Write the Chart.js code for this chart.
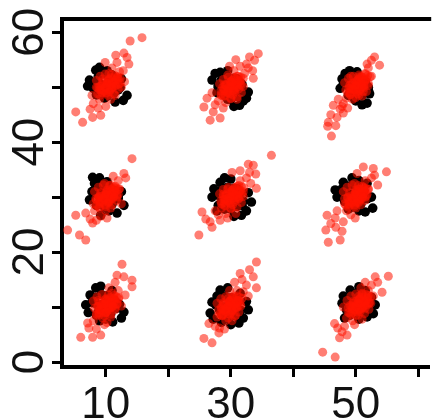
<!DOCTYPE html>
<html>
<head>
<meta charset="utf-8">
<script src="https://cdn.jsdelivr.net/npm/chart.js@4"></script>
<style>
  html, body { margin: 0; padding: 0; background: #fff; overflow: hidden; }
</style>
</head>
<body>
<canvas id="scatter" width="434" height="420"></canvas>
<script>
// tick positions and labelled ticks
const xTicks = [10, 20, 30, 40, 50, 60];
const xLabels = [10, 30, 50];
const yTicks = [0, 10, 20, 30, 40, 50, 60];
const yLabels = [0, 20, 40, 60];

// black points, outer part of each cluster
const blackPts = [
    // (10,50)
    [8.4,53.1],[7.4,51.3],[7.1,50.2],[9.0,53.6],[10.2,53.0],[11.0,52.2],[13.4,48.5],[12.8,47.6],[11.5,47.3],
    [12.0,49.5],[9.5,50.0],[8.5,48.6],[10.5,51.0],[11.8,50.6],[9.8,48.0],[8.0,49.8],[10.8,49.0],[12.5,51.5],
    // (30,50)
    [27.0,51.3],[27.5,52.5],[28.3,52.7],[29.5,53.0],[31.4,46.7],[32.8,49.1],[32.0,47.5],[30.5,46.5],[29.0,48.5],
    [30.0,50.0],[31.0,51.5],[28.0,50.0],[29.5,47.8],[31.8,50.5],[30.8,48.8],[28.8,51.2],[32.5,48.0],[27.8,49.0],
    // (50,50)
    [48.3,52.5],[47.5,49.8],[47.8,51.5],[49.0,53.0],[50.2,52.8],[51.8,47.1],[51.0,46.8],[50.0,47.5],[52.2,48.8],
    [49.5,50.0],[50.8,51.0],[48.8,48.5],[51.5,50.2],[49.2,51.8],[50.5,49.0],[48.5,50.8],[52.0,50.0],[49.8,47.8],
    // (10,30)
    [7.9,33.6],[9.0,33.5],[8.2,32.5],[10.2,32.8],[7.4,29.5],[7.8,31.0],[11.8,27.1],[12.9,28.5],[9.2,26.7],
    [10.5,27.5],[12.0,30.0],[9.5,30.5],[10.8,31.5],[8.5,28.5],[11.0,29.0],[9.8,28.2],[12.5,31.0],[8.8,31.2],
    // (30,30)
    [27.0,30.0],[27.3,31.5],[28.3,32.7],[30.0,33.3],[29.0,33.5],[31.7,26.7],[33.3,29.1],[32.5,27.5],[30.5,26.5],
    [28.0,28.5],[29.5,30.0],[31.0,31.5],[32.8,30.8],[29.0,27.8],[30.5,29.0],[28.5,29.8],[31.8,28.5],[27.8,27.5],
    // (50,30)
    [46.7,31.3],[47.0,30.0],[48.0,32.7],[49.4,33.5],[50.5,33.0],[52.7,28.0],[51.5,27.3],[50.5,27.5],[52.5,30.0],
    [49.0,30.5],[48.2,29.2],[50.0,29.5],[51.2,31.2],[49.5,28.2],[47.8,31.5],[51.8,32.5],[48.8,27.8],[50.8,30.0],
    // (10,10)
    [8.4,13.5],[9.2,13.8],[7.5,12.2],[6.8,10.4],[7.2,9.0],[12.9,9.1],[11.1,7.3],[12.5,8.0],[10.0,7.8],
    [8.5,8.5],[9.5,10.5],[10.5,12.0],[11.5,11.0],[12.2,10.5],[8.0,11.5],[10.2,9.2],[9.0,7.5],[11.0,13.0],
    // (30,10)
    [27.0,10.9],[28.3,13.1],[26.7,8.9],[27.2,7.8],[29.5,13.5],[31.3,7.1],[32.8,9.5],[32.5,11.0],[30.0,6.8],
    [28.5,7.2],[29.0,10.0],[30.5,11.5],[31.5,12.5],[28.2,9.5],[30.8,9.0],[29.5,8.2],[32.0,8.0],[27.8,12.0],
    // (50,10)
    [49.1,13.1],[47.8,10.7],[48.0,12.0],[50.5,13.7],[51.5,13.0],[51.8,8.2],[53.1,10.4],[52.5,11.8],[50.5,7.8],
    [49.0,8.5],[48.5,9.5],[50.0,10.5],[51.0,11.0],[52.0,9.5],[49.5,11.5],[50.8,9.2],[48.2,8.0],[52.8,8.8],
];

// black points filling the middle of each cluster
const blackCore = [
    [8.8,51.9],[9.8,52.4],[10.8,52.3],[11.8,51.4],[12.3,49.9],[11.3,48.9],[10.3,48.4],[9.3,49.2],[8.3,50.9],[9.1,50.6],[10.5,50.9],[11.3,50.6],[9.8,49.9],[10.8,49.6],
    [28.5,51.3],[29.5,51.8],[30.5,51.6],[31.5,50.8],[32.0,49.3],[31.0,48.3],[30.0,47.8],[29.0,48.6],[28.0,50.3],[28.8,50.0],[30.2,50.3],[31.0,50.0],[29.5,49.3],[30.5,49.0],
    [48.5,51.5],[49.5,52.0],[50.5,51.8],[51.5,51.0],[52.0,49.5],[51.0,48.5],[50.0,48.0],[49.0,48.8],[48.0,50.5],[48.8,50.2],[50.2,50.5],[51.0,50.2],[49.5,49.5],[50.5,49.2],
    [8.5,31.7],[9.5,32.2],[10.5,32.0],[11.5,31.2],[12.0,29.7],[11.0,28.7],[10.0,28.2],[9.0,29.0],[8.0,30.7],[8.8,30.4],[10.2,30.7],[11.0,30.4],[9.5,29.7],[10.5,29.4],
    [28.5,31.3],[29.5,31.8],[30.5,31.6],[31.5,30.8],[32.0,29.3],[31.0,28.3],[30.0,27.8],[29.0,28.6],[28.0,30.3],[28.8,30.0],[30.2,30.3],[31.0,30.0],[29.5,29.3],[30.5,29.0],
    [48.3,31.7],[49.3,32.2],[50.3,32.0],[51.3,31.2],[51.8,29.7],[50.8,28.7],[49.8,28.2],[48.8,29.0],[47.8,30.7],[48.6,30.4],[50.0,30.7],[50.8,30.4],[49.3,29.7],[50.3,29.4],
    [8.3,11.8],[9.3,12.3],[10.3,12.1],[11.3,11.3],[11.8,9.8],[10.8,8.8],[9.8,8.3],[8.8,9.1],[7.8,10.8],[8.6,10.5],[10.0,10.8],[10.8,10.5],[9.3,9.8],[10.3,9.5],
    [28.1,11.4],[29.1,11.9],[30.1,11.7],[31.1,10.9],[31.6,9.4],[30.6,8.4],[29.6,7.9],[28.6,8.7],[27.6,10.4],[28.4,10.1],[29.8,10.4],[30.6,10.1],[29.1,9.4],[30.1,9.1],
    [48.9,11.9],[49.9,12.4],[50.9,12.2],[51.9,11.4],[52.4,9.9],[51.4,8.9],[50.4,8.4],[49.4,9.2],[48.4,10.9],[49.2,10.6],[50.6,10.9],[51.4,10.6],[49.9,9.9],[50.9,9.6],
];

// red (transparent) points, spread and outliers
const redPts = [
    // (10,50)
    [13.9,58.4],[15.8,59.0],[9.9,54.5],[11.8,54.5],[13.4,55.4],[13.7,54.2],[5.2,45.5],[6.3,43.6],[7.9,44.5],
    [9.2,44.9],[8.0,47.0],[7.5,46.0],[9.0,47.8],[10.0,49.0],[11.0,50.5],[12.0,51.5],[12.8,53.0],[10.5,52.5],
    [9.5,51.5],[8.5,50.0],[11.5,48.5],[12.5,50.0],[10.0,46.5],[8.8,46.2],[11.0,53.5],[12.2,52.8],[9.0,49.5],
    [10.8,47.8],[13.0,51.0],[7.8,48.5],[11.6,55.8],[12.9,56.2],
    // (30,50)
    [34.4,56.1],[33.8,54.9],[33.6,51.6],[33.0,55.5],[32.5,54.2],[31.5,53.8],[30.5,53.0],[29.5,52.2],[31.0,52.0],
    [30.0,51.0],[29.0,50.5],[30.5,49.5],[29.5,49.0],[28.5,48.5],[30.0,48.0],[31.5,50.5],[32.2,52.5],[28.0,47.5],
    [27.5,46.8],[26.2,48.0],[25.7,46.4],[26.7,44.0],[28.3,44.4],[27.2,45.5],[28.8,46.2],[29.2,47.2],[31.0,47.8],
    [32.8,53.5],[30.8,55.0],[27.0,49.0],[29.8,53.8],[33.5,53.0],
    // (50,50)
    [52.5,54.9],[53.8,54.0],[53.0,55.5],[52.0,53.5],[51.5,52.5],[51.0,51.8],[50.5,52.2],[50.0,51.0],[49.5,50.5],
    [51.0,50.0],[50.0,49.5],[49.0,49.0],[50.5,48.5],[48.5,48.0],[49.5,47.8],[51.2,49.2],[48.0,47.0],[47.5,46.0],
    [46.4,46.7],[48.0,45.3],[45.6,43.6],[46.1,41.1],[45.5,42.9],[47.0,44.5],[46.8,43.0],[47.8,46.5],[48.7,46.2],
    [52.5,52.0],[51.8,54.2],[49.2,52.0],[47.2,47.8],[46.0,45.0],
    // (10,30)
    [14.2,37.0],[12.9,34.3],[13.2,33.5],[12.0,33.0],[11.5,32.0],[10.8,32.2],[11.0,30.5],[10.0,31.0],[9.5,29.5],
    [10.5,29.0],[11.8,30.0],[9.0,28.0],[10.0,27.5],[12.2,31.5],[9.8,32.5],[8.5,29.5],[8.2,27.5],[9.2,26.5],
    [7.9,25.3],[6.8,27.1],[5.2,26.7],[3.9,24.0],[5.8,23.1],[6.8,22.2],[8.5,25.8],[7.5,26.0],[10.8,28.0],
    [11.2,33.8],[12.5,28.8],[9.0,30.2],[8.0,28.8],[10.2,26.2],
    // (30,30)
    [36.5,37.6],[33.6,35.8],[30.2,34.5],[34.1,31.6],[33.0,34.5],[32.5,33.5],[31.5,33.0],[31.0,32.0],[32.0,31.0],
    [30.5,30.5],[29.5,31.5],[30.0,29.5],[31.2,29.8],[29.0,29.0],[28.5,28.0],[30.0,28.0],[29.2,27.0],[28.0,26.8],
    [27.5,27.5],[28.3,25.8],[26.7,25.5],[25.4,27.3],[24.9,23.1],[27.0,24.5],[26.0,26.0],[29.5,26.2],[31.5,34.8],
    [33.2,32.5],[32.8,36.0],[28.8,30.5],[30.8,27.0],[34.0,34.2],
    // (50,30)
    [52.8,35.2],[54.9,34.6],[50.2,34.3],[53.5,32.2],[52.5,33.5],[51.5,33.0],[51.0,32.0],[50.5,31.5],[50.0,31.0],
    [51.5,30.0],[49.5,29.5],[50.5,29.0],[49.0,28.5],[48.5,27.5],[50.0,28.0],[49.2,26.8],[48.0,25.5],[46.7,26.2],
    [45.4,26.7],[45.2,24.0],[45.6,21.8],[47.5,22.2],[49.9,26.2],[46.8,24.5],[47.8,23.8],[47.0,27.5],[48.2,28.8],
    [52.0,31.5],[53.0,34.0],[49.8,32.5],[51.2,35.5],[46.0,25.2],
    // (10,10)
    [12.6,17.8],[12.9,15.5],[14.2,14.9],[14.2,13.7],[13.1,12.2],[11.5,14.5],[12.0,13.0],[11.0,12.5],[10.5,13.5],
    [10.0,11.5],[11.0,11.0],[9.5,10.5],[10.5,10.0],[9.0,9.5],[10.0,9.0],[11.5,9.8],[8.5,8.5],[9.5,8.0],
    [10.8,8.2],[8.0,7.5],[7.1,7.1],[7.3,6.2],[6.0,4.5],[7.9,4.5],[9.2,4.9],[8.5,6.0],[9.8,6.8],
    [12.0,11.5],[11.8,15.8],[8.8,11.2],[10.2,7.2],[12.5,10.2],
    // (30,10)
    [34.1,18.2],[33.6,15.5],[31.5,16.1],[34.1,13.5],[30.6,14.5],[32.5,14.0],[32.0,12.8],[31.0,13.0],[30.5,12.0],
    [31.5,11.0],[30.0,10.5],[29.5,11.5],[31.0,10.0],[29.0,9.5],[30.0,9.0],[30.8,8.5],[28.5,8.5],[29.2,7.5],
    [28.2,6.2],[28.1,5.3],[26.5,7.0],[25.7,4.3],[27.0,3.5],[27.5,6.5],[29.0,6.0],[32.8,12.0],[31.8,15.0],
    [29.8,13.0],[28.8,10.8],[30.2,7.5],[33.0,16.8],[27.8,8.2],
    // (50,10)
    [55.2,15.6],[53.1,15.5],[54.2,12.7],[51.5,14.5],[52.5,14.0],[52.0,13.0],[51.0,12.5],[50.5,12.0],[51.5,11.0],
    [50.0,11.0],[49.5,10.0],[50.5,9.5],[51.5,9.8],[49.0,9.0],[50.0,8.5],[48.5,8.0],[49.5,7.5],[48.6,4.9],
    [47.4,4.4],[47.1,6.2],[46.6,7.0],[44.7,1.8],[46.7,0.9],[48.2,6.5],[49.8,6.8],[52.8,12.0],[53.5,14.5],
    [50.8,13.5],[48.0,10.0],[51.0,7.8],[47.8,5.5],[52.2,10.8],
];

// dense red core of each cluster (diagonal band)
const redCore = [
    [8.7,48.8],[9.3,49.5],[9.9,49.9],[10.5,50.3],[11.1,50.8],[11.7,51.3],[12.3,51.7],[9.5,50.5],[10.3,51.1],[10.9,51.7],[11.5,52.1],[11.3,50.1],
    [10.7,49.5],[10.1,48.9],[12.0,50.5],[9.0,50.1],[10.5,51.3],[11.5,50.9],[9.7,49.3],[11.0,49.9],[10.2,50.6],[11.9,51.9],[9.1,48.5],[10.8,50.3],
    [28.4,48.7],[29.0,49.4],[29.6,49.8],[30.2,50.2],[30.8,50.7],[31.4,51.2],[32.0,51.6],[29.2,50.4],[30.0,51.0],[30.6,51.6],[31.2,52.0],[31.0,50.0],
    [30.4,49.4],[29.8,48.8],[31.7,50.4],[28.7,50.0],[30.2,51.2],[31.2,50.8],[29.4,49.2],[30.7,49.8],[29.9,50.5],[31.6,51.8],[28.8,48.4],[30.5,50.2],
    [48.7,49.0],[49.3,49.7],[49.9,50.1],[50.5,50.5],[51.1,51.0],[51.7,51.5],[52.3,51.9],[49.5,50.7],[50.3,51.3],[50.9,51.9],[51.5,52.3],[51.3,50.3],
    [50.7,49.7],[50.1,49.1],[52.0,50.7],[49.0,50.3],[50.5,51.5],[51.5,51.1],[49.7,49.5],[51.0,50.1],[50.2,50.8],[51.9,52.1],[49.1,48.7],[50.8,50.5],
    [8.5,28.5],[9.1,29.2],[9.7,29.6],[10.3,30.0],[10.9,30.5],[11.5,31.0],[12.1,31.4],[9.3,30.2],[10.1,30.8],[10.7,31.4],[11.3,31.8],[11.1,29.8],
    [10.5,29.2],[9.9,28.6],[11.8,30.2],[8.8,29.8],[10.3,31.0],[11.3,30.6],[9.5,29.0],[10.8,29.6],[10.0,30.3],[11.7,31.6],[8.9,28.2],[10.6,30.0],
    [28.5,28.8],[29.1,29.5],[29.7,29.9],[30.3,30.3],[30.9,30.8],[31.5,31.3],[32.1,31.7],[29.3,30.5],[30.1,31.1],[30.7,31.7],[31.3,32.1],[31.1,30.1],
    [30.5,29.5],[29.9,28.9],[31.8,30.5],[28.8,30.1],[30.3,31.3],[31.3,30.9],[29.5,29.3],[30.8,29.9],[30.0,30.6],[31.7,31.9],[28.9,28.5],[30.6,30.3],
    [48.4,28.5],[49.0,29.2],[49.6,29.6],[50.2,30.0],[50.8,30.5],[51.4,31.0],[52.0,31.4],[49.2,30.2],[50.0,30.8],[50.6,31.4],[51.2,31.8],[51.0,29.8],
    [50.4,29.2],[49.8,28.6],[51.7,30.2],[48.7,29.8],[50.2,31.0],[51.2,30.6],[49.4,29.0],[50.7,29.6],[49.9,30.3],[51.6,31.6],[48.8,28.2],[50.5,30.0],
    [8.5,8.8],[9.1,9.5],[9.7,9.9],[10.3,10.3],[10.9,10.8],[11.5,11.3],[12.1,11.7],[9.3,10.5],[10.1,11.1],[10.7,11.7],[11.3,12.1],[11.1,10.1],
    [10.5,9.5],[9.9,8.9],[11.8,10.5],[8.8,10.1],[10.3,11.3],[11.3,10.9],[9.5,9.3],[10.8,9.9],[10.0,10.6],[11.7,11.9],[8.9,8.5],[10.6,10.3],
    [28.2,8.7],[28.8,9.4],[29.4,9.8],[30.0,10.2],[30.6,10.7],[31.2,11.2],[31.8,11.6],[29.0,10.4],[29.8,11.0],[30.4,11.6],[31.0,12.0],[30.8,10.0],
    [30.2,9.4],[29.6,8.8],[31.5,10.4],[28.5,10.0],[30.0,11.2],[31.0,10.8],[29.2,9.2],[30.5,9.8],[29.7,10.5],[31.4,11.8],[28.6,8.4],[30.3,10.2],
    [48.8,9.0],[49.4,9.7],[50.0,10.1],[50.6,10.5],[51.2,11.0],[51.8,11.5],[52.4,11.9],[49.6,10.7],[50.4,11.3],[51.0,11.9],[51.6,12.3],[51.4,10.3],
    [50.8,9.7],[50.2,9.1],[52.1,10.7],[49.1,10.3],[50.6,11.5],[51.6,11.1],[49.8,9.5],[51.1,10.1],[50.3,10.8],[52.0,12.1],[49.2,8.7],[50.9,10.5],
];

// second red layer over the black disc of each cluster
const redFill = [
    [8.5,51.2],[9.1,52.0],[9.9,52.4],[10.9,52.3],[11.8,51.7],[12.3,50.7],[12.0,49.6],[11.3,48.8],[10.3,48.5],[9.4,49.0],
    [8.7,49.9],[9.5,51.0],[10.5,51.5],[11.3,51.0],[10.9,49.8],[9.9,50.0],[10.3,50.7],[9.2,50.2],[11.6,50.3],[10.6,49.2],
    [28.2,50.6],[28.8,51.4],[29.6,51.8],[30.6,51.7],[31.5,51.1],[32.0,50.1],[31.7,49.0],[31.0,48.2],[30.0,47.9],[29.1,48.4],
    [28.4,49.3],[29.2,50.4],[30.2,50.9],[31.0,50.4],[30.6,49.2],[29.6,49.4],[30.0,50.1],[28.9,49.6],[31.3,49.7],[30.3,48.6],
    [48.2,50.8],[48.8,51.6],[49.6,52.0],[50.6,51.9],[51.5,51.3],[52.0,50.3],[51.7,49.2],[51.0,48.4],[50.0,48.1],[49.1,48.6],
    [48.4,49.5],[49.2,50.6],[50.2,51.1],[51.0,50.6],[50.6,49.4],[49.6,49.6],[50.0,50.3],[48.9,49.8],[51.3,49.9],[50.3,48.8],
    [8.2,31.0],[8.8,31.8],[9.6,32.2],[10.6,32.1],[11.5,31.5],[12.0,30.5],[11.7,29.4],[11.0,28.6],[10.0,28.3],[9.1,28.8],
    [8.4,29.7],[9.2,30.8],[10.2,31.3],[11.0,30.8],[10.6,29.6],[9.6,29.8],[10.0,30.5],[8.9,30.0],[11.3,30.1],[10.3,29.0],
    [28.2,30.6],[28.8,31.4],[29.6,31.8],[30.6,31.7],[31.5,31.1],[32.0,30.1],[31.7,29.0],[31.0,28.2],[30.0,27.9],[29.1,28.4],
    [28.4,29.3],[29.2,30.4],[30.2,30.9],[31.0,30.4],[30.6,29.2],[29.6,29.4],[30.0,30.1],[28.9,29.6],[31.3,29.7],[30.3,28.6],
    [48.0,31.0],[48.6,31.8],[49.4,32.2],[50.4,32.1],[51.3,31.5],[51.8,30.5],[51.5,29.4],[50.8,28.6],[49.8,28.3],[48.9,28.8],
    [48.2,29.7],[49.0,30.8],[50.0,31.3],[50.8,30.8],[50.4,29.6],[49.4,29.8],[49.8,30.5],[48.7,30.0],[51.1,30.1],[50.1,29.0],
    [8.0,11.1],[8.6,11.9],[9.4,12.3],[10.4,12.2],[11.3,11.6],[11.8,10.6],[11.5,9.5],[10.8,8.7],[9.8,8.4],[8.9,8.9],
    [8.2,9.8],[9.0,10.9],[10.0,11.4],[10.8,10.9],[10.4,9.7],[9.4,9.9],[9.8,10.6],[8.7,10.1],[11.1,10.2],[10.1,9.1],
    [27.8,10.7],[28.4,11.5],[29.2,11.9],[30.2,11.8],[31.1,11.2],[31.6,10.2],[31.3,9.1],[30.6,8.3],[29.6,8.0],[28.7,8.5],
    [28.0,9.4],[28.8,10.5],[29.8,11.0],[30.6,10.5],[30.2,9.3],[29.2,9.5],[29.6,10.2],[28.5,9.7],[30.9,9.8],[29.9,8.7],
    [48.6,11.2],[49.2,12.0],[50.0,12.4],[51.0,12.3],[51.9,11.7],[52.4,10.7],[52.1,9.6],[51.4,8.8],[50.4,8.5],[49.5,9.0],
    [48.8,9.9],[49.6,11.0],[50.6,11.5],[51.4,11.0],[51.0,9.8],[50.0,10.0],[50.4,10.7],[49.3,10.2],[51.7,10.3],[50.7,9.2],
];

const FONT = "44px 'Liberation Sans', Arial, sans-serif";

// top frame line + big tick labels (y labels rotated like R)
const framePlugin = {
    id: "frame",
    afterDraw(chart) {
        const ctx = chart.ctx;
        const area = chart.chartArea;
        const xs = chart.scales.x;
        const ys = chart.scales.y;
        ctx.save();
        ctx.strokeStyle = "#000";
        ctx.lineWidth = 4;
        ctx.beginPath();
        ctx.moveTo(area.left - 2, area.top);
        ctx.lineTo(area.right + 2, area.top);
        ctx.stroke();

        ctx.fillStyle = "#111";
        ctx.font = FONT;
        ctx.textAlign = "center";
        ctx.textBaseline = "alphabetic";
        xLabels.forEach((v) => {
            ctx.fillText(String(v), xs.getPixelForValue(v), 418);
        });
        yLabels.forEach((v) => {
            ctx.save();
            ctx.translate(43, ys.getPixelForValue(v));
            ctx.rotate(-Math.PI / 2);
            ctx.fillText(String(v), 0, 0);
            ctx.restore();
        });
        ctx.restore();
    },
};

const toXY = (arr) => arr.map((p) => ({ x: p[0], y: p[1] }));

new Chart(document.getElementById("scatter").getContext("2d"), {
    type: "scatter",
    data: {
        datasets: [
            {
                label: "red",
                data: toXY(redPts.concat(redCore, redFill)),
                backgroundColor: "rgba(255, 20, 0, 0.55)",
                borderWidth: 0,
                pointRadius: 4.5,
                order: 1,
            },
            {
                label: "black",
                data: toXY(blackPts.concat(blackCore)),
                backgroundColor: "#000",
                borderWidth: 0,
                pointRadius: 4.8,
                order: 2,
            },
        ],
    },
    options: {
        responsive: false,
        animation: false,
        layout: { padding: { top: 19, right: 0, left: 0, bottom: 0 } },
        plugins: {
            legend: { display: false },
            tooltip: { enabled: false },
        },
        scales: {
            x: {
                type: "linear",
                min: 3,
                max: 61.74,
                afterFit: (s) => { s.height = 53; },
                afterBuildTicks: (s) => { s.ticks = xTicks.map((v) => ({ value: v })); },
                ticks: { display: false },
                grid: {
                    drawOnChartArea: false,
                    drawTicks: true,
                    tickLength: 10,
                    tickWidth: 3,
                    tickColor: "#000",
                },
                border: { display: true, color: "#000", width: 4 },
            },
            y: {
                type: "linear",
                min: -0.9,
                max: 62.4,
                afterFit: (s) => { s.width = 62; },
                afterBuildTicks: (s) => { s.ticks = yTicks.map((v) => ({ value: v })); },
                ticks: { display: false },
                grid: {
                    drawOnChartArea: false,
                    drawTicks: true,
                    tickLength: 10,
                    tickWidth: 3,
                    tickColor: "#000",
                },
                border: { display: true, color: "#000", width: 4 },
            },
        },
    },
    plugins: [framePlugin],
});
</script>
</body>
</html>
